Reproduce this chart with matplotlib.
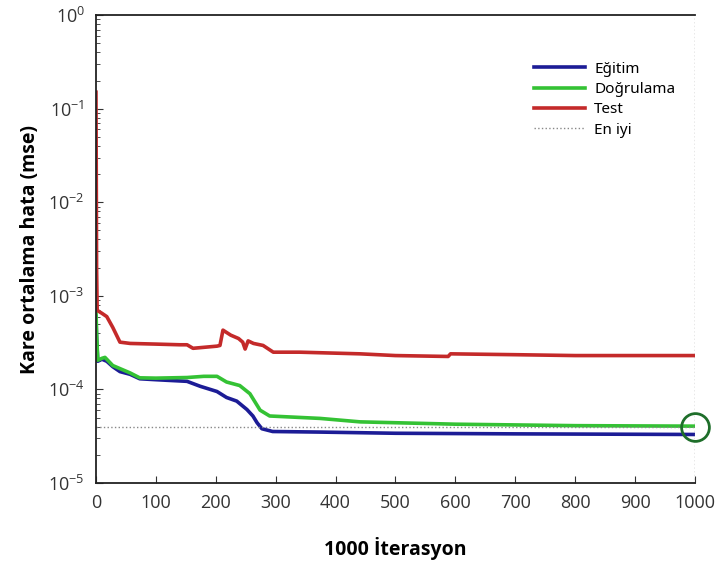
import numpy as np
import matplotlib
matplotlib.use("Agg")
import matplotlib.pyplot as plt

# curve key points
x_train = [0, 1, 3, 10, 18, 28, 40, 57, 73, 100, 152, 174, 202, 218, 235, 252, 262, 269, 277, 295, 374, 500, 700, 1000]
train = [6.0e-4, 3.5e-4, 2.0e-4, 2.1e-4, 2.0e-4, 1.75e-4, 1.55e-4, 1.45e-4, 1.30e-4, 1.27e-4, 1.22e-4, 1.08e-4, 9.5e-5, 8.2e-5, 7.5e-5, 6.1e-5, 5.2e-5, 4.4e-5, 3.8e-5, 3.55e-5, 3.5e-5, 3.4e-5, 3.35e-5, 3.3e-5]

x_val = [0, 1, 3, 10, 15, 28, 57, 73, 100, 152, 180, 202, 218, 240, 257, 274, 290, 374, 441, 600, 800, 1000]
val = [7.0e-4, 4.0e-4, 2.05e-4, 2.15e-4, 2.2e-4, 1.8e-4, 1.5e-4, 1.33e-4, 1.32e-4, 1.34e-4, 1.38e-4, 1.38e-4, 1.2e-4, 1.1e-4, 9.0e-5, 6.0e-5, 5.2e-5, 4.9e-5, 4.5e-5, 4.25e-5, 4.1e-5, 4.05e-5]

x_test = [0, 1, 2, 10, 18, 28, 40, 57, 100, 140, 152, 162, 202, 207, 212, 225, 238, 245, 249, 254, 263, 279, 296, 340, 441, 500, 588, 592, 700, 800, 1000]
test = [0.15, 2.0e-3, 7.0e-4, 6.5e-4, 6.0e-4, 4.6e-4, 3.2e-4, 3.1e-4, 3.05e-4, 3.0e-4, 3.0e-4, 2.75e-4, 2.9e-4, 2.95e-4, 4.3e-4, 3.8e-4, 3.5e-4, 3.2e-4, 2.7e-4, 3.3e-4, 3.1e-4, 2.95e-4, 2.5e-4, 2.5e-4, 2.4e-4, 2.3e-4, 2.25e-4, 2.4e-4, 2.35e-4, 2.3e-4, 2.3e-4]

best_epoch = 1000
best_value = 4.0e-5

plt.rcParams['font.family'] = ['Open Sans', 'DejaVu Sans']
plt.rcParams['mathtext.fontset'] = 'custom'
plt.rcParams['mathtext.rm'] = 'Open Sans'
plt.rcParams['mathtext.it'] = 'Open Sans'

fig = plt.figure(figsize=(7.19, 5.72), dpi=100)
ax = fig.add_axes([0.1335, 0.1556, 0.833, 0.818])

ax.plot(x_train, train, color='#1c1c96', lw=2.6, label='Eğitim')
ax.plot(x_val, val, color='#34c234', lw=2.6, label='Doğrulama')
ax.plot(x_test, test, color='#c42a2a', lw=2.6, label='Test')
ax.axhline(best_value, color='#888888', lw=1, ls=':', label='En iyi')
ax.axvline(best_epoch, color='#888888', lw=1, ls=':')
ax.plot([best_epoch], [best_value], 'o', mfc='none', mec='#1e6e2a', mew=2, ms=20, clip_on=False)

ax.set_yscale('log')
ax.set_ylim(1e-5, 1)
ax.set_xlim(0, 1000)
ax.set_xticks(np.arange(0, 1001, 100))
ax.tick_params(direction='in', which='both', labelsize=13, colors='#333333', pad=8)
ax.tick_params(which='major', length=5)
ax.tick_params(which='minor', length=3)
ax.spines['right'].set_visible(False)
for s in ['left', 'bottom', 'top']:
    ax.spines[s].set_color('#222222')
    ax.spines[s].set_linewidth(1.3)

ax.set_xlabel('1000 İterasyon', fontsize=14, fontweight='bold', labelpad=18)
ax.set_ylabel('Kare ortalama hata (mse)', fontsize=14, fontweight='bold', labelpad=6)

ax.legend(loc='upper right', bbox_to_anchor=(0.99, 0.93), frameon=False,
          prop={'family': 'Noto Sans', 'size': 11},
          handlelength=3.3, labelspacing=0.35, handletextpad=0.6)

fig.savefig('out.png', dpi=100)
